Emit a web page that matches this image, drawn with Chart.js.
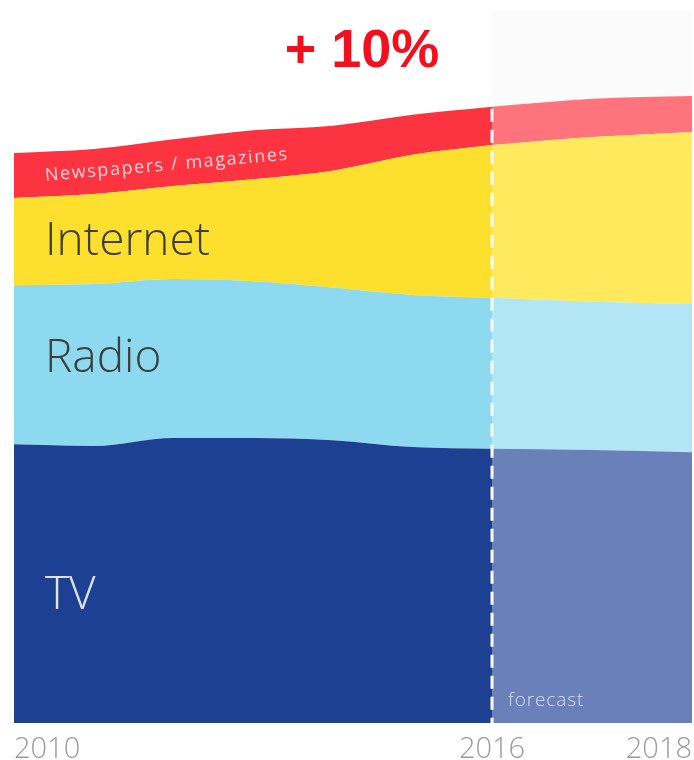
<!DOCTYPE html>
<html>
<head>
<meta charset="utf-8">
<script src="https://cdn.jsdelivr.net/npm/chart.js@4.4.1/dist/chart.umd.min.js"></script>
<style>
  html, body { margin: 0; padding: 0; background: #ffffff; }
  #wrap { width: 694px; height: 760px; position: relative; }
</style>
</head>
<body>
<div id="wrap"><canvas id="c"></canvas></div>
<script>
// ---- data (index: 2010 total = 100) ----
const histYears = [2010, 2011, 2012, 2013, 2014, 2015, 2016];
const fcYears = [2016, 2017, 2018];
const tvHist = [48.9, 48.6, 50.0, 50.0, 49.6, 48.4, 48.1];
const radioHist = [27.9, 28.4, 27.9, 27.5, 26.8, 26.7, 26.5];
const internetHist = [15.3, 15.8, 16.3, 17.9, 20.5, 24.6, 26.8];
const newsHist = [7.9, 7.9, 8.2, 8.6, 7.9, 7.0, 6.7];
const tvFc = [48.1, 47.9, 47.5];
const radioFc = [26.5, 26.0, 26.0];
const internetFc = [26.8, 28.9, 30.2];
const newsFc = [6.7, 6.7, 6.3];
const tickYears = [2010, 2016, 2018];
const seriesNames = ['TV', 'Radio', 'Internet', 'Newspapers / magazines'];
const forecastStart = 2016;
const titleText = '+ 10%';
const forecastText = 'forecast';

// ---- piecewise linear x scale (forecast years are drawn wider) ----
class SplitScale extends Chart.LinearScale {
  _units(v) {
    const b = this.options.breakAt, w = this.options.afterWeight;
    return v <= b ? v - this.min : (b - this.min) + (v - b) * w;
  }
  getPixelForValue(v) {
    const total = this._units(this.max);
    return this.left + this.width * this._units(v) / total;
  }
  getValueForPixel(p) {
    const b = this.options.breakAt, w = this.options.afterWeight;
    const total = this._units(this.max);
    const u = (p - this.left) / this.width * total;
    const ub = b - this.min;
    return u <= ub ? this.min + u : b + (u - ub) / w;
  }
}
SplitScale.id = 'split';
SplitScale.defaults = Chart.LinearScale.defaults;
Chart.register(SplitScale);

const pts = (xs, ys) => xs.map((x, i) => ({ x: x, y: ys[i] }));

const colors = {
  hist: ['#1e4093', '#8cd9f0', '#fde02e', '#fc3341'],
  fc:   ['#6a80b9', '#b2e6f6', '#ffe95c', '#ff737d']
};

function mkDs(label, xs, ys, color, stack, fill) {
  return {
    label: label, data: pts(xs, ys), backgroundColor: color, borderColor: color,
    borderWidth: 0, pointRadius: 0, fill: fill, stack: stack,
    cubicInterpolationMode: 'monotone'
  };
}

const datasets = [
  mkDs(seriesNames[0], histYears, tvHist, colors.hist[0], 'hist', 'origin'),
  mkDs(seriesNames[1], histYears, radioHist, colors.hist[1], 'hist', '-1'),
  mkDs(seriesNames[2], histYears, internetHist, colors.hist[2], 'hist', '-1'),
  mkDs(seriesNames[3], histYears, newsHist, colors.hist[3], 'hist', '-1'),
  mkDs(seriesNames[0], fcYears, tvFc, colors.fc[0], 'fc', 'origin'),
  mkDs(seriesNames[1], fcYears, radioFc, colors.fc[1], 'fc', '-1'),
  mkDs(seriesNames[2], fcYears, internetFc, colors.fc[2], 'fc', '-1'),
  mkDs(seriesNames[3], fcYears, newsFc, colors.fc[3], 'fc', '-1')
];

const decor = {
  id: 'decor',
  beforeDraw(chart) {
    const { ctx, chartArea, scales } = chart;
    const x0 = scales.x.getPixelForValue(forecastStart);
    ctx.save();
    ctx.fillStyle = '#fbfbfc';
    ctx.fillRect(x0, 10, chartArea.right - x0, chartArea.bottom - 10);
    ctx.restore();
  },
  afterDatasetsDraw(chart) {
    const { ctx, chartArea, scales } = chart;
    const xs = scales.x, ys = scales.y;
    const i16 = histYears.indexOf(forecastStart);
    const top16 = tvHist[i16] + radioHist[i16] + internetHist[i16] + newsHist[i16];
    const xb = xs.getPixelForValue(forecastStart);
    ctx.save();
    // dashed forecast divider
    ctx.strokeStyle = '#ffffff';
    ctx.lineWidth = 3;
    ctx.setLineDash([13, 8]);
    ctx.beginPath();
    ctx.moveTo(xb, ys.getPixelForValue(top16) + 2);
    ctx.lineTo(xb, chartArea.bottom);
    ctx.stroke();
    ctx.setLineDash([]);

    // series labels at the 2010 edge
    const lx = xs.getPixelForValue(histYears[0]) + 31;
    const c1 = tvHist[0], c2 = c1 + radioHist[0], c3 = c2 + internetHist[0], c4 = c3 + newsHist[0];
    ctx.textAlign = 'left';
    ctx.textBaseline = 'middle';
    ctx.font = '300 46px "Open Sans", Lato, sans-serif';
    ctx.fillStyle = '#3e3e3a';
    ctx.fillText(seriesNames[2], lx, ys.getPixelForValue((c2 + c3) / 2));
    ctx.fillText(seriesNames[1], lx, ys.getPixelForValue((c1 + c2) / 2) - 6);
    ctx.fillStyle = '#dfe4f1';
    ctx.fillText(seriesNames[0], lx, ys.getPixelForValue(c1 / 2) + 12);

    // newspapers label rotated along band
    const j = 3;
    const cj = tvHist[j] + radioHist[j] + internetHist[j];
    const xA = xs.getPixelForValue(histYears[0]), yA = ys.getPixelForValue((c3 + c4) / 2);
    const xB = xs.getPixelForValue(histYears[j]), yB = ys.getPixelForValue(cj + newsHist[j] / 2);
    const ang = Math.atan2(yB - yA, xB - xA);
    ctx.save();
    ctx.translate(lx, yA + (lx - xA) * Math.tan(ang) + 3);
    ctx.rotate(ang);
    ctx.font = '400 18px "Open Sans", Lato, sans-serif';
    try { ctx.letterSpacing = '1.6px'; } catch (e) {}
    ctx.fillStyle = '#ffd3d7';
    ctx.fillText(seriesNames[3], 0, 0);
    ctx.restore();

    // forecast note
    ctx.save();
    ctx.font = '300 19px "Open Sans", Lato, sans-serif';
    try { ctx.letterSpacing = '0.9px'; } catch (e) {}
    ctx.fillStyle = '#d8dfee';
    ctx.textAlign = 'left';
    ctx.textBaseline = 'alphabetic';
    ctx.fillText(forecastText, xb + 16, chartArea.bottom - 17);
    ctx.restore();

    // headline
    ctx.font = 'bold 54px "Liberation Sans", Arial, sans-serif';
    ctx.fillStyle = '#f2101e';
    ctx.textAlign = 'center';
    ctx.textBaseline = 'alphabetic';
    ctx.fillText(titleText, (chartArea.left + chartArea.right) / 2 + 9, 67);
    ctx.restore();
  }
};

new Chart(document.getElementById('c'), {
  type: 'line',
  data: { datasets: datasets },
  options: {
    responsive: true,
    maintainAspectRatio: false,
    animation: false,
    layout: { padding: { left: 14, right: 2, top: 39, bottom: 2 } },
    plugins: { legend: { display: false }, tooltip: { enabled: false }, title: { display: false } },
    scales: {
      x: {
        type: 'split',
        breakAt: forecastStart,
        afterWeight: 1.255,
        min: 2010, max: 2018,
        grid: { display: false, drawTicks: false },
        border: { display: false },
        afterBuildTicks: (s) => { s.ticks = tickYears.map(v => ({ value: v })); },
        afterFit: (s) => { s.height = 35; s.paddingLeft = 0; s.paddingRight = 0; },
        ticks: {
          align: 'inner',
          padding: 12,
          maxRotation: 0,
          autoSkip: false,
          color: '#9b9b9b',
          font: { family: '"Open Sans", Lato, sans-serif', size: 29, weight: '300', lineHeight: 1 },
          callback: (v) => String(v)
        }
      },
      y: {
        stacked: true,
        display: false,
        min: 0, max: 120
      }
    }
  },
  plugins: [decor]
});
</script>
</body>
</html>
